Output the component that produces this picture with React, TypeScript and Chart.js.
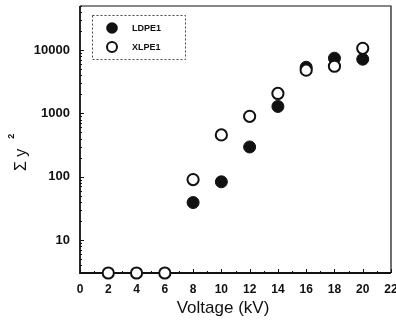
import React, { useEffect, useRef } from "react";
import { Chart, registerables } from "chart.js";

Chart.register(...registerables);

const voltage = [2, 4, 6, 8, 10, 12, 14, 16, 18, 20];
const ldpe1 = [null, null, null, 39, 83, 295, 1290, 5370, 7480, 7210];
const xlpe1 = [3, 3, 3, 90, 457, 900, 2070, 4830, 5580, 10700];
const seriesNames = ["LDPE1", "XLPE1"];
const yTickValues = [10, 100, 1000, 10000];
const xTitle = "Voltage (kV)";
const yTitle = "Σ y";
const yTitleSup = "2";

const FONT = "'Liberation Sans', Arial, sans-serif";
const INK = "#111";

const toPoints = (ys: (number | null)[]) =>
  voltage.map((x, i) => ({ x, y: ys[i] })).filter((p) => p.y !== null);

const framePlugin = {
  id: "frameAndTicks",
  beforeDatasetsDraw(chart: any) {
    const { ctx, chartArea } = chart;
    const { left, right, top, bottom } = chartArea;
    const xs = chart.scales.x;
    const ys = chart.scales.y;
    ctx.save();
    ctx.strokeStyle = INK;
    ctx.lineWidth = 1.2;
    ctx.beginPath();
    ctx.moveTo(left, top);
    ctx.lineTo(right, top);
    ctx.lineTo(right, bottom);
    ctx.stroke();
    ctx.lineWidth = 1.8;
    ctx.beginPath();
    ctx.moveTo(left, top);
    ctx.lineTo(left, bottom);
    ctx.lineTo(right, bottom);
    ctx.stroke();
    ctx.lineWidth = 1;
    for (let v = 0; v <= 22; v += 1) {
      const px = Math.round(xs.getPixelForValue(v)) + 0.5;
      const len = v % 2 === 0 ? 4 : 2;
      ctx.beginPath();
      ctx.moveTo(px, bottom);
      ctx.lineTo(px, bottom - len);
      ctx.stroke();
    }
    for (let dec = 1; dec <= 10000; dec *= 10) {
      for (let m = 1; m <= 9; m++) {
        const v = dec * m;
        if (v < ys.min || v > ys.max) continue;
        const py = Math.round(ys.getPixelForValue(v)) + 0.5;
        const len = m === 1 ? 4 : 2;
        ctx.beginPath();
        ctx.moveTo(left, py);
        ctx.lineTo(left + len, py);
        ctx.stroke();
      }
    }
    ctx.restore();
  },
  afterDraw(chart: any) {
    const { ctx } = chart;
    ctx.save();
    ctx.fillStyle = INK;
    ctx.font = `17px ${FONT}`;
    ctx.textAlign = "center";
    ctx.textBaseline = "alphabetic";
    ctx.fillText(xTitle, 223, 313);
    ctx.translate(26, 171);
    ctx.rotate(-Math.PI / 2);
    ctx.font = `16px ${FONT}`;
    ctx.textAlign = "left";
    ctx.fillText(yTitle, 0, 0);
    const w = ctx.measureText(yTitle).width;
    ctx.font = `bold 9px ${FONT}`;
    ctx.fillText(yTitleSup, w + 10, -12);
    ctx.restore();

    ctx.save();
    ctx.strokeStyle = "#444";
    ctx.lineWidth = 1;
    ctx.setLineDash([2, 2]);
    ctx.strokeRect(92.5, 15.5, 93, 44);
    ctx.setLineDash([]);
    ctx.fillStyle = INK;
    ctx.beginPath();
    ctx.arc(112, 28, 5.8, 0, Math.PI * 2);
    ctx.fill();
    ctx.beginPath();
    ctx.lineWidth = 2;
    ctx.strokeStyle = INK;
    ctx.arc(112, 47, 5, 0, Math.PI * 2);
    ctx.stroke();
    ctx.font = `bold 9px ${FONT}`;
    ctx.textAlign = "left";
    ctx.textBaseline = "middle";
    ctx.fillText(seriesNames[0], 132, 29);
    ctx.fillText(seriesNames[1], 132, 48);
    ctx.restore();
  },
};

export default function App() {
  const ref = useRef<HTMLCanvasElement>(null);
  useEffect(() => {
    document.body.style.margin = "0";
    const chart = new Chart(ref.current!, {
      type: "scatter",
      data: {
        datasets: [
          {
            label: seriesNames[0],
            data: toPoints(ldpe1) as any,
            order: 1,
            pointRadius: 6,
            pointBorderWidth: 1,
            backgroundColor: INK,
            borderColor: INK,
            clip: false as any,
          },
          {
            label: seriesNames[1],
            data: toPoints(xlpe1) as any,
            order: 0,
            pointRadius: 5.6,
            pointBorderWidth: 2,
            backgroundColor: "#fff",
            borderColor: INK,
            clip: false as any,
          },
        ],
      },
      options: {
        responsive: false,
        animation: false,
        devicePixelRatio: 1,
        layout: { autoPadding: false, padding: { left: 0, right: 5, top: 6, bottom: 0 } },
        plugins: { legend: { display: false }, tooltip: { enabled: false } },
        scales: {
          x: {
            type: "linear",
            min: 0,
            max: 22,
            grid: { display: false, drawTicks: false },
            border: { display: false },
            ticks: {
              stepSize: 2,
              padding: 9,
              color: INK,
              font: { family: FONT, size: 12, weight: "bold" },
            },
            afterFit: (s: any) => {
              s.height = 47;
              s.paddingLeft = 0;
              s.paddingRight = 0;
            },
          },
          y: {
            type: "logarithmic",
            min: 3,
            max: 50000,
            grid: { display: false, drawTicks: false },
            border: { display: false },
            afterBuildTicks: (s: any) => {
              s.ticks = yTickValues.map((v) => ({ value: v, major: true }));
            },
            ticks: {
              padding: 10,
              color: INK,
              font: { family: FONT, size: 13, weight: "bold" },
              callback: (v: any) => String(v),
            },
            afterFit: (s: any) => {
              s.width = 80;
              s.paddingTop = 0;
              s.paddingBottom = 0;
            },
          },
        },
      },
      plugins: [framePlugin],
    });
    return () => chart.destroy();
  }, []);
  return (
    <div style={{ position: "absolute", left: 0, top: 0, width: 396, height: 320, background: "#fff" }}>
      <canvas ref={ref} width={396} height={320} />
    </div>
  );
}
